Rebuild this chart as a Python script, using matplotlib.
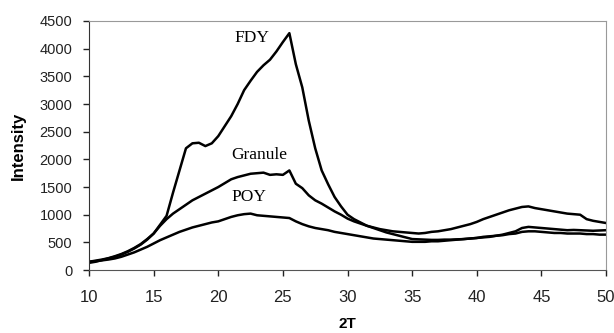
import numpy as np
import matplotlib
matplotlib.use("Agg")
import matplotlib.pyplot as plt

# 2-theta axis, half-degree steps
two_theta = np.arange(10, 50.5, 0.5)

fdy = [150, 170, 190, 215, 250, 290, 340, 400, 470, 560,
       660, 820, 980, 1400, 1800, 2200, 2290, 2300, 2240, 2290,
       2420, 2600, 2780, 3000, 3250, 3420, 3580, 3700, 3800, 3950,
       4120, 4280, 3720, 3300, 2700, 2200, 1800, 1550, 1320, 1150,
       1000, 920, 860, 800, 760, 720, 680, 650, 620, 590,
       560, 555, 550, 545, 545, 550, 550, 555, 560, 570,
       580, 590, 600, 620, 640, 670, 700, 760, 780, 770,
       760, 750, 740, 730, 720, 725, 720, 715, 710, 715, 720]

granule = [130, 150, 180, 210, 240, 280, 330, 390, 460, 550,
           660, 800, 920, 1020, 1100, 1180, 1260, 1320, 1380, 1440,
           1500, 1570, 1640, 1680, 1710, 1740, 1750, 1760, 1720, 1730,
           1720, 1800, 1560, 1480, 1350, 1260, 1200, 1130, 1060, 1000,
           930, 880, 840, 800, 770, 740, 720, 700, 690, 680,
           670, 660, 670, 690, 700, 720, 740, 770, 800, 830,
           870, 920, 960, 1000, 1040, 1080, 1110, 1140, 1150, 1120,
           1100, 1080, 1060, 1040, 1020, 1010, 1000, 920, 890, 870, 850]

poy = [150, 160, 175, 190, 210, 240, 280, 320, 370, 420,
       480, 540, 590, 640, 690, 730, 770, 800, 830, 860,
       880, 920, 960, 990, 1010, 1020, 990, 980, 970, 960,
       950, 940, 880, 830, 790, 760, 740, 720, 690, 670,
       650, 630, 610, 590, 570, 560, 550, 540, 530, 520,
       510, 510, 510, 520, 520, 530, 540, 550, 560, 570,
       580, 600, 610, 620, 630, 650, 660, 690, 700, 700,
       690, 680, 670, 670, 660, 660, 660, 650, 650, 640, 640]

fig = plt.figure(figsize=(6.14, 3.33), dpi=100)
ax = fig.add_axes([0.145, 0.189, 0.842, 0.748])

for y in (fdy, granule, poy):
    ax.plot(two_theta, y, color="black", lw=1.8)

# curve labels
ax.text(22.6, 4190, "FDY", family="Liberation Serif", fontsize=12.5, ha="center", va="center")
ax.text(23.2, 2070, "Granule", family="Liberation Serif", fontsize=12.5, ha="center", va="center")
ax.text(22.4, 1315, "POY", family="Liberation Serif", fontsize=12.5, ha="center", va="center")

ax.set_xlim(10, 50)
ax.set_ylim(0, 4500)
ax.set_xticks(range(10, 51, 5))
ax.set_yticks(range(0, 4501, 500))
for lab in ax.get_xticklabels():
    lab.set_family("Liberation Sans")
    lab.set_fontsize(12)
for lab in ax.get_yticklabels():
    lab.set_family("Liberation Sans")
    lab.set_fontsize(10.5)
ax.tick_params(direction="out", length=4, width=1, colors="#222222")
ax.tick_params(axis="x", pad=10)
ax.tick_params(axis="y", pad=8)

ax.set_xlabel("2T", family="Liberation Sans", fontweight="bold", fontsize=11, labelpad=9)
ax.set_ylabel("Intensity", family="Liberation Sans", fontweight="bold", fontsize=12, labelpad=10)

ax.spines["top"].set_color("#999999")
ax.spines["right"].set_color("#999999")
ax.spines["left"].set_color("#333333")
ax.spines["bottom"].set_color("#555555")

fig.savefig("out.png", dpi=100)
